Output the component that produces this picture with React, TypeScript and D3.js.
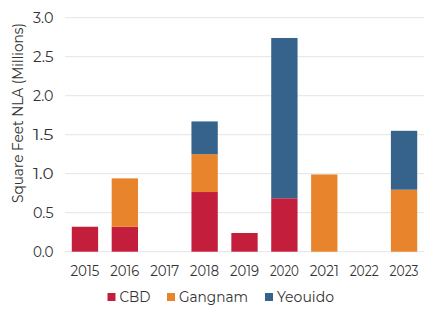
import React from "react";
import * as d3 from "d3";

const years = ["2015", "2016", "2017", "2018", "2019", "2020", "2021", "2022", "2023"];
const cbd = [0.32, 0.32, 0, 0.765, 0.24, 0.685, 0, 0, 0];
const gangnam = [0, 0.62, 0, 0.485, 0, 0, 0.99, 0, 0.795];
const yeouido = [0, 0, 0, 0.42, 0, 2.055, 0, 0, 0.755];
const seriesNames = ["CBD", "Gangnam", "Yeouido"];
const colors = ["#C31F3C", "#E8842B", "#35638C"];
const yTicks = [0, 0.5, 1.0, 1.5, 2.0, 2.5, 3.0];

export default function App() {
  const W = 443, H = 324;
  const left = 65, right = 424, top = 17.7, bottom = 251.7;
  const x = d3.scaleBand<string>().domain(years).range([left, right]).paddingInner(0.34).paddingOuter(0.17);
  const y = d3.scaleLinear().domain([0, 3]).range([bottom, top]);
  const rows = years.map((yr, i) => ({ year: yr, CBD: cbd[i], Gangnam: gangnam[i], Yeouido: yeouido[i] }));
  const stacked = d3.stack<any>().keys(seriesNames)(rows);
  const font = "Montserrat, 'Open Sans', sans-serif";
  const textColor = "#333333";
  const legendX = [107.5, 167, 265];
  const legendW = [31, 69, 57];
  return (
    <svg width={W} height={H} style={{ position: "absolute", left: 0, top: 0, background: "#fff" }} fontFamily={font}>
      {yTicks.map((t) => (
        <g key={t}>
          <line x1={left} x2={right} y1={y(t)} y2={y(t)} stroke="#e4e4e4" strokeWidth={1} />
          <text x={53.5} y={y(t)} dy="0.36em" textAnchor="end" fontSize={14.5} fill={textColor} textLength={20.5} lengthAdjust="spacingAndGlyphs">
            {t.toFixed(1)}
          </text>
        </g>
      ))}
      {stacked.map((s, si) => (
        <g key={s.key} fill={colors[si]}>
          {s.map((d, i) =>
            d[1] - d[0] > 0 ? (
              <rect key={i} x={x(years[i])} width={x.bandwidth()} y={y(d[1])} height={y(d[0]) - y(d[1])} />
            ) : null
          )}
        </g>
      ))}
      {years.map((yr) => (
        <text key={yr} x={(x(yr) as number) + x.bandwidth() / 2} y={275.5} textAnchor="middle" fontSize={14.5} fill={textColor} textLength={29} lengthAdjust="spacingAndGlyphs">
          {yr}
        </text>
      ))}
      <text transform={`translate(23,113) rotate(-90)`} textAnchor="middle" fontSize={14} fill={textColor} textLength={180} lengthAdjust="spacingAndGlyphs">
        Square Feet NLA (Millions)
      </text>
      {seriesNames.map((n, i) => (
        <g key={n}>
          <rect x={legendX[i]} y={293} width={8} height={8} fill={colors[i]} />
          <text x={legendX[i] + 12} y={297} dy="0.36em" fontSize={14.5} fill={textColor} textLength={legendW[i]} lengthAdjust="spacingAndGlyphs">
            {n}
          </text>
        </g>
      ))}
    </svg>
  );
}
